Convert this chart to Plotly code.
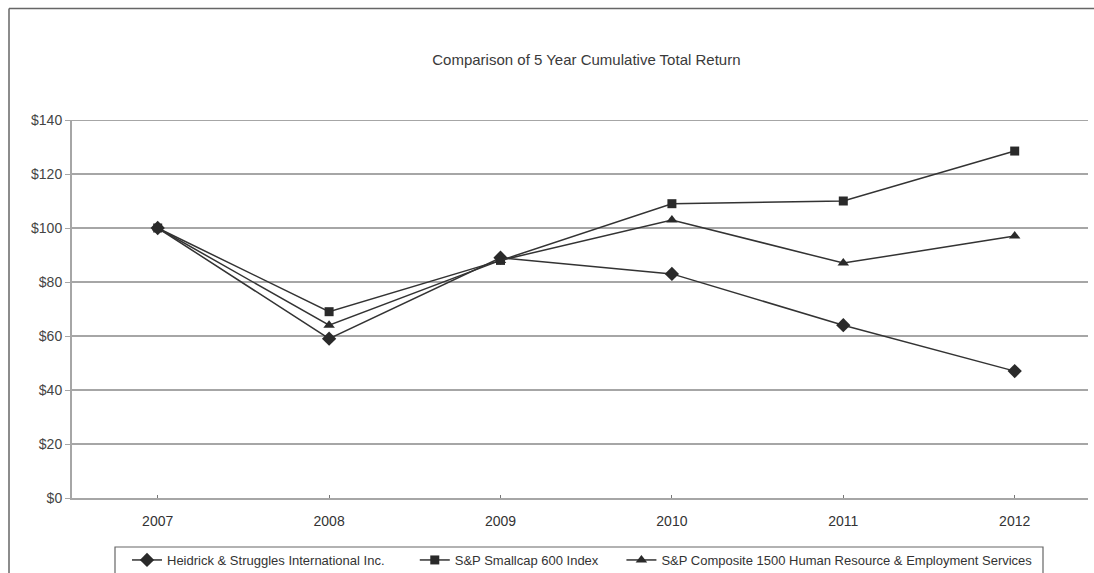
import plotly.graph_objects as go

years = ["2007", "2008", "2009", "2010", "2011", "2012"]
heidrick = [100, 59, 89, 83, 64, 47]
smallcap = [100, 69, 88, 109, 110, 128.5]
hr_services = [100, 64, 88, 103, 87, 97]
y_ticks = [0, 20, 40, 60, 80, 100, 120, 140]
y_tick_text = ["$0", "$20", "$40", "$60", "$80", "$100", "$120", "$140"]

NB = "\u00a0"
series = [
    ("Heidrick & Struggles International Inc." + NB * 7, heidrick, "diamond", 11),
    ("S&P Smallcap 600 Index" + NB * 5, smallcap, "square", 9),
    ("S&P Composite 1500 Human Resource & Employment Services", hr_services, "triangle-up", 10),
]

W, H = 1094, 573
L, R, T, B = 72, 6, 120, 75
pw, ph = W - L - R, H - T - B

fig = go.Figure()
for name, vals, sym, size in series:
    fig.add_trace(go.Scatter(
        x=years, y=vals, name=name, mode="lines+markers",
        line=dict(color="#333333", width=1.5),
        marker=dict(symbol=sym, size=size, color="#2a2a2a"),
    ))

def px_x(v):
    return (v - L) / pw

def px_y(v):
    return (H - B - v) / ph

grid = "#a6a6a6"
fig.update_layout(
    width=W, height=H,
    margin=dict(l=L, r=R, t=T, b=B, autoexpand=False),
    paper_bgcolor="white", plot_bgcolor="white",
    font=dict(family="Liberation Sans, Arial, sans-serif", size=13, color="#444444"),
    title=dict(text="Comparison of 5 Year Cumulative Total Return",
               x=0.536, xanchor="center", y=1 - 60 / H, yanchor="middle",
               font=dict(size=15, color="#3a3a3a")),
    showlegend=True,
    legend=dict(orientation="h", xref="container", yref="container",
                x=(127) / W, xanchor="left", y=1 - 545 / H, yanchor="top",
                borderwidth=0, bgcolor="rgba(0,0,0,0)",
                font=dict(size=13, color="#333333"),
                traceorder="normal", itemwidth=30),
    xaxis=dict(type="category", range=[-0.5, -0.5 + pw / 171.4], automargin=False,
               showgrid=False, showline=True, linecolor=grid, linewidth=2,
               ticks="inside", ticklen=3, tickcolor="#777777",
               ticklabelstandoff=9,
               tickfont=dict(size=14, color="#333333")),
    yaxis=dict(range=[0, 140], tickvals=y_ticks, ticktext=y_tick_text, automargin=False,
               showgrid=True, gridcolor=grid, gridwidth=2,
               showline=True, linecolor=grid, linewidth=2,
               ticks="outside", ticklen=5, tickcolor=grid,
               zeroline=False, tickfont=dict(size=14, color="#444444")),
)

# gridline at the top of the value range
fig.add_shape(type="line", xref="paper", yref="y", x0=0, x1=1, y0=140, y1=140,
              line=dict(color=grid, width=2), layer="below")

# legend frame
fig.add_shape(type="rect", xref="paper", yref="paper",
              x0=px_x(115), x1=px_x(1043), y0=px_y(547), y1=px_y(H + 10),
              line=dict(color="#666666", width=1.2), fillcolor="rgba(0,0,0,0)")

# outer frame (left and top edges)
fig.add_shape(type="line", xref="paper", yref="paper",
              x0=px_x(9), x1=px_x(W), y0=px_y(8.5), y1=px_y(8.5),
              line=dict(color="#666666", width=1.5))
fig.add_shape(type="line", xref="paper", yref="paper",
              x0=px_x(9), x1=px_x(9), y0=px_y(8.5), y1=px_y(H + 5),
              line=dict(color="#666666", width=1.5))

fig.write_html("out.html")
